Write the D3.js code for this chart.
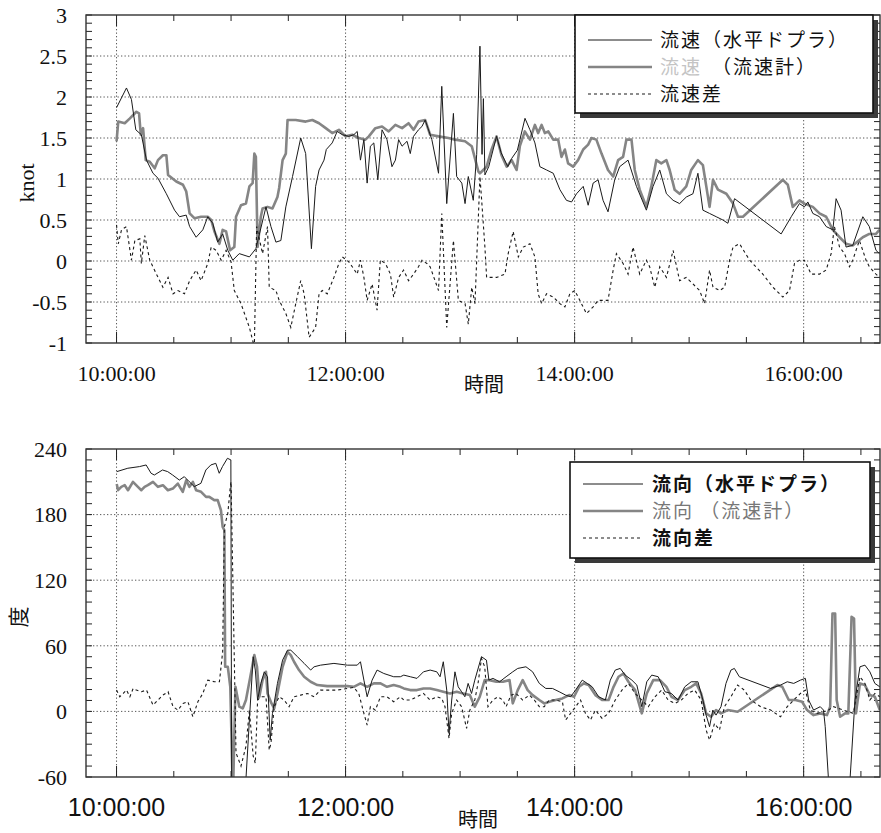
<!DOCTYPE html>
<html>
<head>
<meta charset="utf-8">
<script src="https://cdn.jsdelivr.net/npm/d3@7"></script>
<style>
  body { margin: 0; background: #fff; }
</style>
</head>
<body>
<div id="chart"></div>
<script>
// times are minutes after 10:00:00
// ---- speed (knot) ----
const speedDopplerT = [0,5.2,7.8,10.1,13,15.7,19.1,21.7,26.1,30.4,33,36.5,38.3,41.7,45.2,47.8,50.4,53,55.6,58.3,60.9,64.3,69.6,73,78.3,80.9,83.5,86.1,88.7,92.2,96.5,99.1,102.1,104.3,106.1,108.7,109.9,113,115.6,118.3,121.7,124.3,126.1,127.8,129.6,131.3,133,134.8,136.9,139.1,141.7,144.3,146.1,147.8,149.6,152.2,153.9,155.6,158.2,160,161.7,165.2,168.7,170.4,173,176.5,178.2,180.9,182.6,184.3,186.9,188.7,190.4,191.5,192.2,193,195,199.1,201.5,205,207,210,214,216.6,219.2,221.8,225.3,228.8,232.3,235.7,238.4,241,244.5,247.1,249.7,252.3,254.9,257.5,261,263.6,268,272.4,277.6,281.1,284.6,288.1,291.6,295,298.5,302,304.6,307.2,310.7,314.2,317.7,320.3,323.8,348.2,353.5,357.8,360.4,362.2,364.8,368.3,371.8,375.3,377,379.6,382.2,385.7,391,394.4,397.9,399.7];
const speedDopplerV = [1.87,2.11,1.97,1.60,1.54,1.23,1.07,1.01,0.82,0.62,0.54,0.56,0.42,0.29,0.38,0.54,0.46,0.23,0.33,0.13,0.01,0.09,0.05,0.15,0.66,0.42,0.23,0.25,0.66,1.03,1.50,1.31,0.15,0.91,1.11,1.23,1.36,1.44,1.58,1.54,1.52,1.54,1.58,1.23,1.48,0.95,1.40,1.44,0.99,1.60,1.48,1.15,1.23,1.48,1.40,1.46,1.31,1.52,1.60,1.64,1.72,1.48,1.07,2.13,0.70,1.80,1.03,0.95,0.70,1.03,0.74,1.30,2.62,1.30,1.98,1.05,1.15,1.52,1.32,1.15,1.25,1.35,1.74,1.60,1.44,1.15,1.11,1.07,0.87,0.74,0.72,0.82,0.91,0.68,0.95,0.99,0.74,0.60,0.99,1.15,1.23,0.91,0.62,0.91,1.11,0.82,0.74,0.70,0.78,0.82,1.07,0.62,0.58,0.54,0.50,0.46,0.76,0.33,0.54,0.70,0.66,0.72,0.58,0.54,0.42,0.38,0.76,0.62,0.17,0.19,0.54,0.42,0.13,0.09];

const speedMeterT = [0,0.9,4.3,7,10.4,11.8,12.7,13.9,15.3,17.4,20,21.7,24.3,26.1,27,31.3,34.8,36.5,38.3,40.9,44.3,47.8,49.6,51.3,53.9,55.6,57.4,59.5,61.7,62.6,65.2,67.8,69.6,71.3,72.2,73,73.9,75.6,76.5,79.1,81.7,84.3,85.2,87,88.7,89.6,93.9,99.1,102.6,106.1,109.6,113,116.5,120,123.5,126.9,130.4,132.2,135.6,139.1,142.6,146.1,149.6,153,155.6,158.2,161.7,164.3,168.7,173.9,177.4,182.6,186.1,189.6,190.4,193.9,196.5,199.1,201.7,204.4,207,209.6,211.3,213.9,216.6,219.2,220.9,222.7,224.4,226.2,228.8,231.4,233.1,234.9,236.6,239.2,241.8,244.5,247.1,248.8,251.4,254.1,257.5,260.2,262.8,265.4,267.1,269.8,271.5,274.1,277.6,280.2,282.8,285.4,288.1,289.8,292.4,295,298.5,301.1,304.6,307.2,310.7,312.5,315.1,319.5,323,325.6,328.2,349.1,351.7,354.3,357.8,360.4,364.8,368.3,371.8,375.3,378.8,382.2,385.7,391,394.4,397.9,399.7];
const speedMeterV = [1.46,1.70,1.68,1.74,1.82,1.80,1.54,1.62,1.23,1.21,1.13,1.23,1.29,1.29,1.05,0.97,0.93,0.85,0.58,0.52,0.54,0.54,0.50,0.36,0.21,0.38,0.36,0.13,0.17,0.54,0.68,0.70,0.91,0.95,1.31,1.27,0.17,0.54,0.64,0.66,0.64,0.78,0.89,1.23,1.31,1.72,1.72,1.70,1.72,1.68,1.62,1.56,1.60,1.52,1.54,1.50,1.48,1.52,1.62,1.64,1.58,1.66,1.62,1.68,1.60,1.70,1.72,1.54,1.52,1.50,1.48,1.46,1.40,1.09,1.07,1.15,1.36,1.52,1.29,1.15,1.23,1.11,1.40,1.58,1.48,1.66,1.56,1.66,1.56,1.58,1.48,1.48,1.27,1.36,1.19,1.15,1.23,1.36,1.42,1.50,1.48,1.31,1.11,1.03,1.23,1.27,1.48,1.48,1.11,0.87,0.66,0.91,1.23,1.19,1.23,1.11,0.87,0.82,0.91,1.11,1.23,1.17,0.66,0.99,0.87,0.82,0.70,0.54,0.54,0.99,0.93,0.66,0.74,0.70,0.66,0.58,0.54,0.38,0.29,0.21,0.19,0.29,0.33,0.33,0.38];

const speedDiffT = [0,0.9,2.6,5.2,7.8,9.6,12.2,13,14.8,17.4,20.9,24.3,27,29.6,32.2,35.6,38.3,41.7,44.3,47.8,49.6,52.2,54.8,57.4,60,61.7,65.2,69.6,72.2,73.4,76.5,79.1,80,83.5,85.2,88.7,91.3,93.9,96.5,98.3,100.9,104.3,106.1,107.8,110.4,113.9,116.5,118.3,121.7,123.5,126.1,127.8,129.6,131.3,133.9,136.5,138.2,140.9,143.5,145.2,147.8,150.4,153,155.6,158.2,160,162.6,164.3,168.7,170.4,173,176.5,179.1,182.6,184.3,186.1,187.8,190.4,191.3,193,193.9,199.1,203.5,205.2,207.8,210.5,213.1,216.6,219.2,220.9,222.7,225.3,228.8,232.3,234.9,237.5,240.1,242.7,246.2,249.7,252.3,254.9,257.5,260.2,261.9,265.4,268,270.6,274.1,277.6,279.3,282,284.6,288.1,291.6,295,298.5,302,305.5,308.1,310.7,312.5,316,318.6,321.2,323,326.4,331.7,338.6,343.9,349.1,352.6,355.2,357.8,360.4,363.9,368.3,371.8,374.4,376.1,378.8,381.4,384,385.7,389.2,392.7,394.4,397.9,399.7];
const speedDiffV = [0.44,0.21,0.38,0.42,0.01,0.25,0.27,-0.03,0.31,0.01,-0.16,-0.32,-0.20,-0.40,-0.36,-0.40,-0.24,-0.11,-0.24,-0.03,0.17,0.13,0.01,0.13,-0.01,-0.36,-0.52,-0.81,-1.05,0.42,0.09,0.42,-0.32,-0.36,-0.48,-0.64,-0.81,-0.52,-0.24,-0.40,-0.93,-0.81,-0.40,-0.36,-0.40,-0.20,-0.03,0.05,-0.01,-0.07,-0.16,0.01,-0.20,-0.48,-0.28,-0.60,0.01,-0.03,-0.16,-0.44,-0.20,-0.11,-0.24,-0.16,-0.07,0.01,-0.03,-0.07,-0.36,0.58,-0.81,0.25,-0.48,-0.52,-0.77,-0.32,-0.52,1.03,0.74,0.17,-0.20,-0.20,-0.16,0.09,0.36,0.05,0.17,0.21,0.05,-0.40,-0.52,-0.40,-0.44,-0.52,-0.56,-0.40,-0.36,-0.48,-0.64,-0.56,-0.48,-0.48,-0.48,-0.11,0.09,-0.03,-0.16,0.17,-0.16,0.01,-0.07,-0.32,-0.07,-0.20,0.13,-0.24,-0.20,-0.28,-0.36,-0.52,-0.11,-0.32,-0.36,-0.32,0.01,0.17,0.21,0.01,-0.16,-0.32,-0.44,-0.36,-0.03,0.01,0.01,-0.16,-0.16,-0.11,0.09,0.42,0.17,0.09,-0.07,0.01,0.25,0.01,-0.07,-0.16,-0.20];

// ---- direction (deg) ----
const dirDopplerT = [0.1,5.9,12,15.5,18.1,19.8,24.1,26.8,29.4,32.9,35.5,38.1,40.7,44.2,46.8,49.4,52,53.8,55.5,58.1,59.9,60.3,67.8,69.6,71.6,72.7,73.9,75.6,77.4,79.1,80.5,81.7,84.3,87,89.6,91.3,94.8,98.3,101.7,103.5,106.9,113.9,120.9,126.1,127.8,129.6,131.3,133.9,136.5,140,145.2,148.7,150.5,153.9,157.4,160.8,164.3,167.8,169.5,171.2,173,174.2,175.6,177.3,179,180.8,182.5,184.2,186,187.7,191.2,193.8,195.1,197.2,200.7,204.1,207.6,210.2,214.5,218,221.5,224.9,228.4,231.9,235.3,237.9,240.5,244,246.6,249.2,252.6,256.1,258.7,261.3,263.9,266.5,270,272.6,275.2,277.8,280.4,283.8,287.3,290.7,294.2,297.7,301.1,304.6,307.2,308.9,310.7,312.4,314.1,316.7,319.3,321.9,323.7,326.3,342.7,347.9,351.4,354.8,358.3,360.9,362.6,365.2,368.7,370.4,371.3,373,384.3,386.9,389.5,392.1,394.7,397.3,399.9];
const dirDopplerV = [219.3,222.4,223.9,225.4,217.8,216.2,220.8,219.3,216.2,211.6,214.7,210.1,205.6,208.6,220.8,225.4,226.9,217.8,223.9,231.5,230,-62,-62,-7.9,50,37.8,10.4,25.6,36.2,31.7,-26.2,-1.8,25.6,46.9,56,56,50,43.9,37.8,40.8,42.3,43.9,42.3,42.3,45.4,28.6,13.4,28.6,37.8,34.7,31.7,31.7,33.2,31.7,30.2,36.2,37.8,36.2,31.7,45.4,19.5,-20.1,10.4,36.2,22.5,18,13.4,25.6,16.4,28.6,50,46.9,28.6,30.2,27.1,31.7,36.2,39.3,40.8,36.2,25.6,21,21,18,14.9,13.4,19.5,28.6,25.6,22.5,13.4,10.4,28.6,37.8,39.3,33.2,28.6,24.1,4.3,27.1,33.2,31.7,18,16.4,10.4,22.5,27.1,27.1,10.4,-3.4,-14,1.2,-3.4,4.3,25.6,37.8,39.3,31.7,21,24.1,27.1,25.6,28.6,30.2,10.4,1.2,4.3,1.2,-14,-62,-62,10.4,40.8,42.3,36.2,25.6,22.5];

const dirMeterT = [0.1,0.8,2.5,4.3,6,8.6,11.2,13,14.7,16.4,19.1,21.7,24.3,26.9,29.5,32.1,34.7,36.5,38.2,40,41.7,44.3,46.9,48.6,51.2,53,54.7,55.6,56.5,56.9,58.3,59.6,60.7,61.2,62.3,64.3,66.1,67.8,70.1,72.2,73.6,74.8,76.5,78.3,79.1,81.2,82.6,84.3,87,89.6,91.3,93,95.6,98.3,101.7,105.2,110.4,115.6,120.9,124.3,127.8,131.3,134.8,138.3,141.7,145.2,148.7,150.5,153.9,157.4,160.8,164.3,167.8,171.2,174.7,178.2,181.6,185.1,187.7,190.3,192.9,195.5,199,202.4,205.9,207.6,210.2,212.8,215.4,218,221.5,224.1,226.7,230.1,233.6,237.1,239.7,242.3,244.8,247.4,250.9,254.4,257.8,260.4,263,265.6,268.2,271.7,275.2,277.8,281.2,284.7,288.1,290.7,294.2,297.7,301.1,303.7,306.3,308.9,311.5,314.1,316.7,320.2,325.4,346.2,348.8,352.2,355.7,359.2,361.8,365.2,368.7,372.2,373.9,375.1,376.5,377.3,379.1,381.7,383.4,385.1,386.4,387.4,389.5,392.1,394.7,397.3,399.9];
const dirMeterV = [208,202.3,205.4,206.9,202.3,209.9,205.4,202.3,205.4,206.9,209.9,205.4,206.9,202.3,203.8,208.4,200.8,211.4,205.4,209.9,202.3,200.8,196.2,196.2,193.2,193.2,184,168.8,165.7,40.8,40.8,22.5,-58,-62,22.5,4.3,2.7,10.4,31.7,51.5,40.8,13.4,28.6,36.2,16.4,7.3,2.7,16.4,40.8,54.5,51.5,45.4,37.8,31.7,27.1,24.1,23.1,23.1,23.1,22.5,25.6,22.5,25.6,25.6,22.5,24.1,22.5,21,19.5,19.5,21,21,19.5,18,16.4,18,16.4,14.9,4.3,13.4,28.6,28.6,27.1,27.1,28.6,7.3,19.5,28.6,19.5,14.9,10.4,7.3,8.8,10.4,11.9,14.9,13.4,22.5,25.6,24.1,14.9,10.4,10.4,22.5,31.7,34.7,27.1,19.5,-1.8,16.4,28.6,28.6,22.5,13.4,10.4,19.5,22.5,25.6,16.4,-1.8,-4.9,1.2,-1.8,1.2,-0.3,24.1,22.5,10.4,10.4,8.8,1.2,-3.4,-1.8,-3.4,4.3,89.6,89.6,10.4,-4.9,-1.8,-1.8,86.5,85,-1.8,25.6,24.1,14.9,13.4,1.2];

const dirDiffT = [0,1.7,3.5,5.2,7,8.7,10.4,13,15.7,19.1,21.7,24.3,27,29.6,32.2,34.8,37.4,40,42.6,45.2,47.8,51.3,53.9,55.6,56.5,58.3,59.6,60,62.6,65.2,67.8,69.6,71.6,72.7,73.9,75.6,78.3,80,80.9,82.6,85.2,87.8,90.4,93,96.5,100,103.5,106.9,111.3,115.6,120.9,124.3,126.9,129.6,131.3,133,135.6,138.3,141.7,145.2,148.7,150.5,153.9,157.4,160.8,164.3,167.8,170.4,172.1,174.2,175.6,178.2,180.8,183.4,185.1,187.7,189.4,191.2,192.9,194.6,197.2,199.8,202.4,204.1,206.7,209.3,212.8,216.3,218.9,221.5,224.1,226.7,230.1,233.6,235.3,237.9,240.5,243.1,245.7,248.3,250.9,254.4,257.8,261.3,264.8,268.2,271.7,275.2,278.6,282.1,285.6,289,292.5,295.9,299.4,302.9,306.3,308.9,310.7,313.3,315.9,318.5,321.9,325.4,328.9,332.3,337.5,342.7,347.9,351.4,354.8,358.3,360.9,363.5,367,370.4,373,375.6,380.8,386,389.5,392.1,394.7,397.3,399.9];
const dirDiffV = [19.5,13.4,16.4,19.5,13.4,21,19.5,18,19.5,5.8,10.4,14.9,18,4.3,1.2,7.3,8.8,-4.9,8.8,16.4,28.6,27.1,27.1,54.5,169,181,205.5,210,-38,-50,-32,1.2,-41,-47.5,10.4,13.4,13.4,-35.3,-29.2,4.3,13.4,10.4,4.3,13.4,14.9,16.4,13.4,19.5,19.5,19.5,21,21.9,16.4,-1.8,-12.5,4.3,1.2,13.4,13.4,8.8,13.4,10.4,10.4,13.4,16.4,10.4,13.4,11.9,4.3,-24.7,-1.8,10.4,4.3,-15.5,1.2,10.4,25.6,48.4,40.8,4.3,10.4,13.4,10.4,4.3,14.9,16.4,10.4,14.9,10.4,4.3,4.3,10.4,10.4,8.8,-7.9,-1.8,4.3,10.4,-1.8,-7.9,1.2,-6.4,-1.8,10.4,19.5,25.6,16.4,10.4,4.3,13.4,19.5,10.4,7.3,10.4,16.4,19.5,10.4,-17.1,-26.2,-11,-17.1,4.3,13.4,24.1,19.5,10.4,4.3,1.2,-4.9,4.3,10.4,16.4,19.5,1.2,-1.8,-0.3,1.2,4.3,1.2,-1.8,31.7,25.6,10.4,16.4,13.4];

// axes
const timeTickMinutes = [0, 120, 240, 360];          // 10:00:00 .. 16:00:00
const speedTicks = [-1, -0.5, 0, 0.5, 1, 1.5, 2, 2.5, 3];
const dirTicks = [-60, 0, 60, 120, 180, 240];
const speedLegend = ["流速（水平ドプラ）", "（流速計）", "流速差"];
const dirLegend = ["流向（水平ドプラ）", "流向 （流速計）", "流向差"];

// Variables
//////////////////////////////////////////////////////////////////////
var width = 881, height = 833;
var left = 86, right = 880;
var serif = "'Liberation Serif', 'DejaVu Serif', serif";
var sans = "'Liberation Sans', Arial, sans-serif";
var cjk = "'Noto Sans CJK JP', sans-serif";
var base = new Date(2000, 0, 1, 10, 0, 0);
var toDate = m => new Date(base.getTime() + m * 60000);
var fmt = d3.timeFormat("%H:%M:%S");

var svg = d3.select("#chart").append("svg")
  .attr("width", width).attr("height", height)
  .attr("viewBox", [0, 0, width, height]);

var x = d3.scaleTime().domain([toDate(-16), toDate(400)]).range([left, right]);

function zip(t, v) { return t.map((m, i) => [toDate(m), v[i]]); }

// Draw one panel
//////////////////////////////////////////////////////////////////////
function panel(cfg) {
  var y = d3.scaleLinear().domain(cfg.domain).range([cfg.bottom, cfg.top]);
  var g = svg.append("g");

  svg.append("clipPath").attr("id", cfg.id)
    .append("rect")
    .attr("x", left).attr("y", cfg.top)
    .attr("width", right - left).attr("height", cfg.bottom - cfg.top);

  // dotted grid
  var grid = g.append("g").attr("stroke", "#444").attr("stroke-width", 0.9)
    .attr("stroke-dasharray", "1.3,2.2");
  grid.selectAll(".gy").data(cfg.ticks.slice(1, -1)).join("line")
    .attr("x1", left).attr("x2", right)
    .attr("y1", d => y(d)).attr("y2", d => y(d));
  grid.selectAll(".gx").data(timeTickMinutes).join("line")
    .attr("x1", d => x(toDate(d))).attr("x2", d => x(toDate(d)))
    .attr("y1", cfg.top).attr("y2", cfg.bottom);

  // minor ticks
  var tk = g.append("g").attr("stroke", "#222").attr("stroke-width", 1);
  var yMinor = d3.range(cfg.domain[0], cfg.domain[1] + cfg.minor / 2, cfg.minor);
  tk.selectAll(".yl").data(yMinor).join("line")
    .attr("x1", left).attr("x2", left + 6).attr("y1", d => y(d)).attr("y2", d => y(d));
  tk.selectAll(".yr").data(yMinor).join("line")
    .attr("x1", right - 6).attr("x2", right).attr("y1", d => y(d)).attr("y2", d => y(d));
  var xTicks = d3.range(0, 400, 30);
  tk.selectAll(".xb").data(xTicks).join("line")
    .attr("x1", d => x(toDate(d))).attr("x2", d => x(toDate(d)))
    .attr("y1", cfg.bottom).attr("y2", d => cfg.bottom - (d % 120 === 0 ? 11 : 6));
  tk.selectAll(".xt").data(xTicks).join("line")
    .attr("x1", d => x(toDate(d))).attr("x2", d => x(toDate(d)))
    .attr("y1", cfg.top).attr("y2", d => cfg.top + (d % 120 === 0 ? 11 : 6));

  // series
  var line = d3.line().x(d => x(d[0])).y(d => y(d[1]));
  var lines = g.append("g").attr("clip-path", `url(#${cfg.id})`).attr("fill", "none");
  lines.append("path").datum(cfg.meter)
    .attr("stroke", "#858585").attr("stroke-width", 2.6).attr("stroke-linejoin", "round")
    .attr("d", line);
  lines.append("path").datum(cfg.doppler)
    .attr("stroke", "#1a1a1a").attr("stroke-width", 1)
    .attr("d", line);
  lines.append("path").datum(cfg.diff)
    .attr("stroke", "#1a1a1a").attr("stroke-width", 1.1).attr("stroke-dasharray", "3,3")
    .attr("d", line);

  // frame
  g.append("rect")
    .attr("x", left).attr("y", cfg.top)
    .attr("width", right - left).attr("height", cfg.bottom - cfg.top)
    .attr("fill", "none").attr("stroke", "#333").attr("stroke-width", 1.4);

  // y labels
  g.append("g").attr("font-family", serif).attr("font-size", 22).attr("fill", "#111")
    .attr("text-anchor", "end")
    .selectAll("text").data(cfg.ticks).join("text")
    .attr("x", 67).attr("y", d => y(d)).attr("dy", "0.35em")
    .text(d => cfg.tickFmt(d));

  // x labels
  g.append("g").attr("font-family", cfg.xFont).attr("font-size", cfg.xSize).attr("fill", "#111")
    .attr("text-anchor", "middle")
    .selectAll("text").data(timeTickMinutes).join("text")
    .attr("x", d => x(toDate(d))).attr("y", cfg.xLabelY)
    .text(d => fmt(toDate(d)));

  g.append("text").attr("font-family", cjk).attr("font-size", 20).attr("fill", "#111")
    .attr("text-anchor", "middle")
    .attr("x", cfg.xTitle[0]).attr("y", cfg.xTitle[1])
    .text("時間");

  g.append("text").attr("font-family", cfg.yTitleFont).attr("font-size", cfg.yTitleSize).attr("fill", "#111")
    .attr("text-anchor", "middle")
    .attr("transform", `translate(${cfg.yTitle[0]},${cfg.yTitle[1]}) rotate(-90)`)
    .attr("dy", "0.35em")
    .text(cfg.yTitleText);

  // legend
  var L = cfg.legend;
  var lg = g.append("g");
  lg.append("rect").attr("x", L.x + 5).attr("y", L.y + 5).attr("width", L.w).attr("height", L.h)
    .attr("fill", "#3a3a3a");
  lg.append("rect").attr("x", L.x).attr("y", L.y).attr("width", L.w).attr("height", L.h)
    .attr("fill", "#fff").attr("stroke", "#111").attr("stroke-width", 1.6);
  var styles = [
    { stroke: "#1a1a1a", w: 1, dash: null },
    { stroke: "#858585", w: 2.6, dash: null },
    { stroke: "#1a1a1a", w: 1.1, dash: "3,3" }
  ];
  L.rows.forEach((ry, i) => {
    lg.append("line")
      .attr("x1", L.lx1).attr("x2", L.lx2).attr("y1", ry).attr("y2", ry)
      .attr("stroke", styles[i].stroke).attr("stroke-width", styles[i].w)
      .attr("stroke-dasharray", styles[i].dash);
  });
  L.draw(lg);
}

// Main
//////////////////////////////////////////////////////////////////////
panel({
  id: "clip-speed", top: 15, bottom: 343, domain: [-1, 3], ticks: speedTicks, minor: 0.1,
  tickFmt: d => String(d),
  meter: zip(speedMeterT, speedMeterV),
  doppler: zip(speedDopplerT, speedDopplerV),
  diff: zip(speedDiffT, speedDiffV),
  xFont: serif, xSize: 22, xLabelY: 381,
  xTitle: [484, 392],
  yTitle: [26, 183], yTitleText: "knot", yTitleFont: serif, yTitleSize: 22,
  legend: {
    x: 575, y: 15, w: 298, h: 98, lx1: 588, lx2: 652, rows: [40, 67, 94],
    draw: function (lg) {
      var t = lg.append("g").attr("font-family", cjk).attr("font-size", 19)
        .attr("letter-spacing", 2).attr("fill", "#111");
      t.append("text").attr("x", 660).attr("y", 40).attr("dy", "0.36em").text(speedLegend[0]);
      var r2 = t.append("text").attr("x", 660).attr("y", 67).attr("dy", "0.36em");
      r2.append("tspan").attr("fill", "#c4c4c4").text("流速");
      r2.append("tspan").attr("dx", 10).text(speedLegend[1]);
      t.append("text").attr("x", 660).attr("y", 94).attr("dy", "0.36em").text(speedLegend[2]);
    }
  }
});

panel({
  id: "clip-dir", top: 449, bottom: 777, domain: [-60, 240], ticks: dirTicks, minor: 10,
  tickFmt: d => String(d),
  meter: zip(dirMeterT, dirMeterV),
  doppler: zip(dirDopplerT, dirDopplerV),
  diff: zip(dirDiffT, dirDiffV),
  xFont: sans, xSize: 25, xLabelY: 816,
  xTitle: [478, 827],
  yTitle: [19, 617], yTitleText: "度", yTitleFont: cjk, yTitleSize: 21,
  legend: {
    x: 570, y: 462, w: 300, h: 96, lx1: 583, lx2: 643, rows: [484, 511, 538],
    draw: function (lg) {
      var t = lg.append("g").attr("font-family", cjk).attr("font-size", 19)
        .attr("letter-spacing", 2);
      t.append("text").attr("x", 652).attr("y", 484).attr("dy", "0.36em")
        .attr("font-weight", "bold").attr("fill", "#111").text(dirLegend[0]);
      t.append("text").attr("x", 652).attr("y", 511).attr("dy", "0.36em")
        .attr("fill", "#777").text(dirLegend[1]);
      t.append("text").attr("x", 652).attr("y", 538).attr("dy", "0.36em")
        .attr("font-weight", "bold").attr("fill", "#111").text(dirLegend[2]);
    }
  }
});
</script>
</body>
</html>
